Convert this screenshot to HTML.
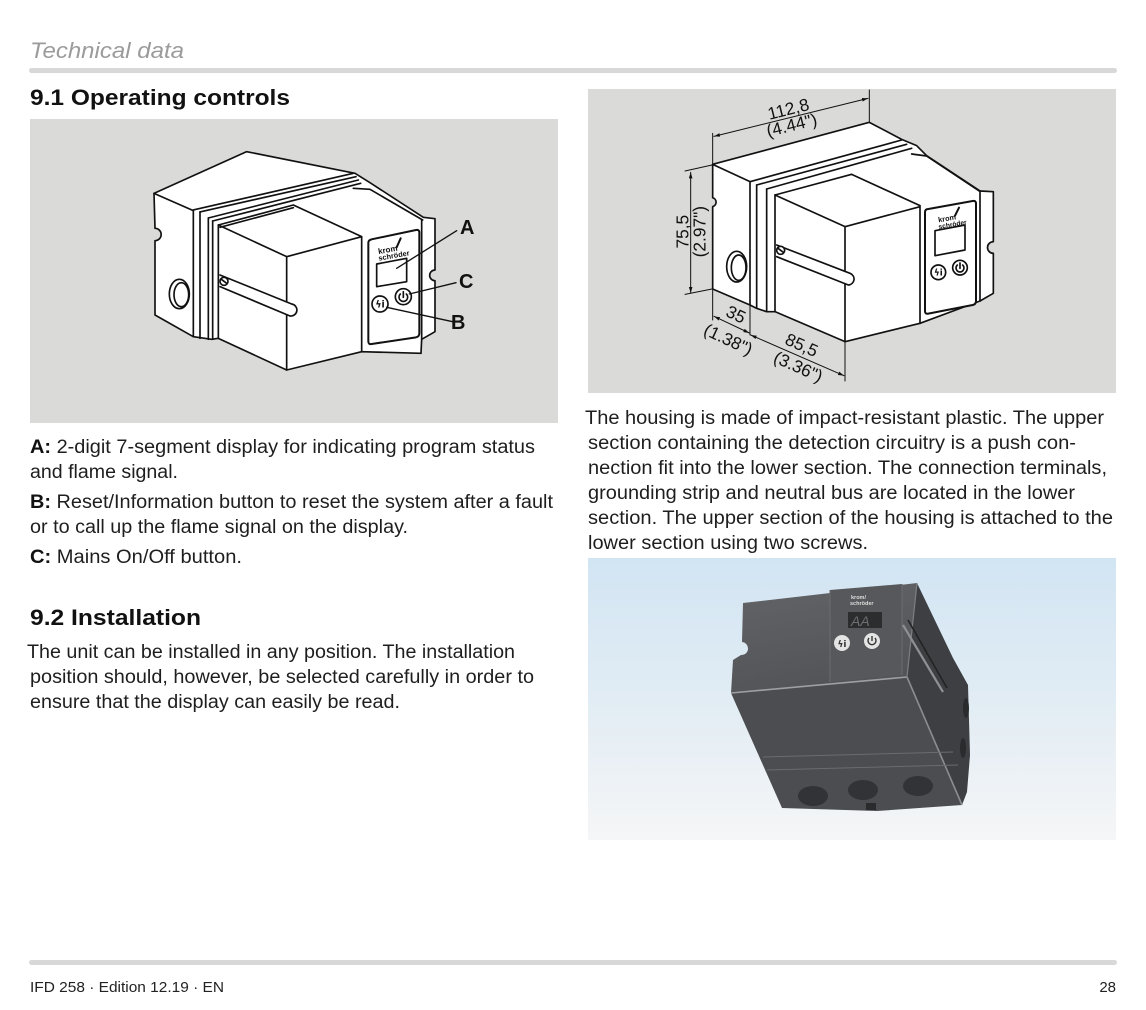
<!DOCTYPE html>
<html><head><meta charset="utf-8">
<style>
html,body{margin:0;padding:0;background:#fff;}
body{width:1146px;height:1010px;overflow:hidden;}
svg{display:block;}
.t{font-family:"Liberation Sans",Arial,sans-serif;font-size:19px;fill:#1e1e1e;}
.b{font-weight:bold;fill:#111;}
.h{font-family:"Liberation Sans",Arial,sans-serif;font-size:22px;font-weight:bold;fill:#111;}
.dim{font-family:"Liberation Sans",Arial,sans-serif;font-size:52px;fill:#111;stroke:none;}
.lbl{font-family:"Liberation Sans",Arial,sans-serif;font-size:20px;font-weight:bold;fill:#111;}
</style></head>
<body>
<svg width="1146" height="1010" viewBox="0 0 1146 1010" xmlns="http://www.w3.org/2000/svg">
<defs>
<marker id="ar" viewBox="0 0 10 6" refX="10" refY="3" markerWidth="6" markerHeight="3.6" orient="auto-start-reverse"><path d="M0,0 L10,3 L0,6 z" fill="#111"/></marker>
<linearGradient id="bg" x1="0" y1="0" x2="0" y2="1">
<stop offset="0" stop-color="#d2e5f3"/><stop offset="0.55" stop-color="#e3edf4"/><stop offset="1" stop-color="#f5f6f7"/>
</linearGradient>
<linearGradient id="topf" x1="0" y1="0" x2="0.3" y2="1">
<stop offset="0" stop-color="#626467"/><stop offset="1" stop-color="#525457"/>
</linearGradient>
</defs>

<!-- Header -->
<text x="30" y="58" font-family="Liberation Sans, Arial, sans-serif" font-size="22" font-style="italic" fill="#9b9b9b" textLength="154" lengthAdjust="spacingAndGlyphs">Technical data</text>
<rect x="29" y="68" width="1088" height="5" rx="2.5" fill="#d8d8d8"/>
<text class="h" x="30" y="105" textLength="260" lengthAdjust="spacingAndGlyphs">9.1 Operating controls</text>

<!-- Panels -->
<rect x="30" y="119" width="528" height="304" fill="#dadad8"/>
<rect x="588" y="89" width="528" height="304" fill="#dadad8"/>

<!-- Left drawing -->
<g transform="translate(140,140) scale(0.33333)" fill="none" stroke="#111" stroke-width="5" stroke-linejoin="round" stroke-linecap="round">
<path fill="#fff" d="M42,160 L320,35 L645,100 L690,128 L850,232 L885,236 L885,390 A16,16 0 0 0 885,422 L885,575 L845,598 L843,640 L665,635 L440,690 L235,595 L215,598 L160,590 L45,525 L45,302 A18,18 0 0 0 45,265 Z"/>
<path d="M42,160 L160,212 L160,590"/>
<path d="M160,210 L640,100 M180,216 L648,110 M205,234 L655,120 M218,243 L662,130"/>
<path d="M180,216 L180,595 M205,234 L205,598 M218,243 L218,598 M235,255 L235,595"/>
<path d="M235,255 L460,195 L665,290 M240,262 L460,203"/>
<path d="M235,255 L440,350 L440,690 M440,350 L665,290 L665,635"/>
<path d="M640,145 L690,148 L848,240 M845,240 L845,598"/>
<ellipse cx="118" cy="462" rx="30" ry="44" fill="#fff"/>
<ellipse cx="124" cy="464" rx="22" ry="36"/>
<path fill="#fff" d="M240,405 L455,492 A18,18 0 0 1 450,528 L240,440"/>
<circle cx="252" cy="424" r="12" fill="#fff"/>
<path d="M244,418 L260,430"/>
<path fill="#fff" stroke-width="6" d="M695,298 L828,270 Q838,268 838,278 L838,580 Q838,590 828,592 L695,612 Q685,614 685,604 L685,308 Q685,300 695,298 Z"/>
<path d="M710,372 L800,355 L800,425 L710,440 Z"/>
<text x="715" y="338" font-family="Liberation Sans, Arial, sans-serif" font-size="24" font-weight="bold" fill="#111" stroke="none" transform="rotate(-10 740 335)">krom</text>
<text x="715" y="358" font-family="Liberation Sans, Arial, sans-serif" font-size="22" font-weight="bold" fill="#111" stroke="none" transform="rotate(-10 740 350)">schröder</text>
<path d="M770,322 L782,295" stroke-width="6"/>
<circle cx="720" cy="492" r="24"/>
<text x="720" y="502" text-anchor="middle" font-family="DejaVu Sans, sans-serif" font-size="28" font-weight="bold" fill="#111" stroke="none">ϟi</text>
<circle cx="790" cy="470" r="24"/>
<path d="M781,462 A13,13 0 1 0 799,462 M790,455 L790,472" stroke-width="5"/>
<path stroke-width="4" d="M950,272 L770,385 M948,428 L808,462 M938,545 L740,502"/>
</g>
<text class="lbl" x="460" y="234">A</text>
<text class="lbl" x="459" y="288">C</text>
<text class="lbl" x="451" y="329">B</text>

<!-- Right drawing -->
<g transform="translate(660,85) scale(0.33333)" fill="none" stroke="#111" stroke-width="5" stroke-linejoin="round" stroke-linecap="round">
<path fill="#fff" d="M158,238 L628,112 L725,163 L770,182 L800,212 L960,318 L1000,320 L1000,470 A16,16 0 0 0 1000,505 L1000,625 L960,648 L780,715 L555,770 L345,680 L320,680 L290,670 L270,660 L158,612 L158,365 A14,14 0 0 0 158,338 Z"/>
<path d="M158,238 L270,290 L270,660"/>
<path d="M270,290 L725,165 M290,300 L740,178 M320,312 L755,190 M345,330 L575,268"/>
<path d="M290,300 L290,668 M320,312 L320,680 M345,330 L345,680"/>
<path d="M345,330 L555,425 L555,770 M555,425 L780,365 M575,268 L780,362 M780,362 L780,715"/>
<path d="M755,207 L800,213 L958,318 M960,318 L960,648"/>
<ellipse cx="230" cy="545" rx="30" ry="46" fill="#fff"/>
<ellipse cx="236" cy="548" rx="22" ry="38"/>
<path fill="#fff" d="M350,480 L570,565 A18,18 0 0 1 565,600 L350,515"/>
<circle cx="362" cy="496" r="12" fill="#fff"/>
<path d="M354,490 L370,502"/>
<path fill="#fff" stroke-width="6" d="M805,372 L938,348 Q948,346 948,356 L948,648 Q948,658 938,660 L805,686 Q795,688 795,678 L795,382 Q795,372 805,372 Z"/>
<path d="M825,437 L915,420 L915,495 L825,512 Z"/>
<text x="835" y="408" font-family="Liberation Sans, Arial, sans-serif" font-size="22" font-weight="bold" fill="#111" stroke="none" transform="rotate(-10 860 405)">krom</text>
<text x="835" y="428" font-family="Liberation Sans, Arial, sans-serif" font-size="20" font-weight="bold" fill="#111" stroke="none" transform="rotate(-10 860 420)">schröder</text>
<path d="M885,392 L897,368" stroke-width="6"/>
<circle cx="835" cy="562" r="22"/>
<text x="835" y="572" text-anchor="middle" font-family="DejaVu Sans, sans-serif" font-size="26" font-weight="bold" fill="#111" stroke="none">ϟi</text>
<circle cx="900" cy="548" r="22"/>
<path d="M892,540 A12,12 0 1 0 908,540 M900,534 L900,550"/>
<!-- dimensions -->
<g stroke-width="3">
<path d="M158,236 L158,145 M628,110 L628,15"/>
<path d="M162,154 L624,40" marker-start="url(#ar)" marker-end="url(#ar)"/>
<path d="M75,258 L156,240 M75,628 L156,612"/>
<path d="M92,262 L92,624" marker-start="url(#ar)" marker-end="url(#ar)"/>
<path d="M158,615 L158,705 M270,662 L270,750 M555,772 L555,888"/>
<path d="M162,694 L268,744" marker-start="url(#ar)" marker-end="url(#ar)"/>
<path d="M272,750 L552,872" marker-start="url(#ar)" marker-end="url(#ar)"/>
</g>
<text class="dim" x="385" y="72" text-anchor="middle" dominant-baseline="central" transform="rotate(-14 385 72)">112,8</text>
<text class="dim" x="395" y="120" text-anchor="middle" dominant-baseline="central" transform="rotate(-14 395 120)">(4.44")</text>
<text class="dim" x="68" y="440" text-anchor="middle" dominant-baseline="central" transform="rotate(-90 68 440)">75,5</text>
<text class="dim" x="118" y="440" text-anchor="middle" dominant-baseline="central" transform="rotate(-90 118 440)">(2.97")</text>
<text class="dim" x="228" y="688" text-anchor="middle" dominant-baseline="central" transform="rotate(25 228 688)">35</text>
<text class="dim" x="205" y="763" text-anchor="middle" dominant-baseline="central" transform="rotate(25 205 763)">(1.38")</text>
<text class="dim" x="425" y="780" text-anchor="middle" dominant-baseline="central" transform="rotate(24 425 780)">85,5</text>
<text class="dim" x="415" y="845" text-anchor="middle" dominant-baseline="central" transform="rotate(24 415 845)">(3.36")</text>
</g>

<!-- Left column text -->
<text class="t" x="30" y="453" textLength="505" lengthAdjust="spacingAndGlyphs"><tspan class="b">A:</tspan> 2-digit 7-segment display for indicating program status</text>
<text class="t" x="30" y="478" textLength="148" lengthAdjust="spacingAndGlyphs">and flame signal.</text>
<text class="t" x="30" y="508" textLength="523" lengthAdjust="spacingAndGlyphs"><tspan class="b">B:</tspan> Reset/Information button to reset the system after a fault</text>
<text class="t" x="30" y="533" textLength="378" lengthAdjust="spacingAndGlyphs">or to call up the flame signal on the display.</text>
<text class="t" x="30" y="563" textLength="212" lengthAdjust="spacingAndGlyphs"><tspan class="b">C:</tspan> Mains On/Off button.</text>
<text class="h" x="30" y="625" textLength="171" lengthAdjust="spacingAndGlyphs">9.2 Installation</text>
<text class="t" x="27" y="658" textLength="488" lengthAdjust="spacingAndGlyphs">The unit can be installed in any position. The installation</text>
<text class="t" x="30" y="683" textLength="504" lengthAdjust="spacingAndGlyphs">position should, however, be selected carefully in order to</text>
<text class="t" x="30" y="708" textLength="370" lengthAdjust="spacingAndGlyphs">ensure that the display can easily be read.</text>

<!-- Right column text -->
<text class="t" x="585" y="424" textLength="519" lengthAdjust="spacingAndGlyphs">The housing is made of impact-resistant plastic. The upper</text>
<text class="t" x="588" y="449" textLength="488" lengthAdjust="spacingAndGlyphs">section containing the detection circuitry is a push con-</text>
<text class="t" x="588" y="474" textLength="519" lengthAdjust="spacingAndGlyphs">nection fit into the lower section. The connection terminals,</text>
<text class="t" x="588" y="499" textLength="487" lengthAdjust="spacingAndGlyphs">grounding strip and neutral bus are located in the lower</text>
<text class="t" x="588" y="524" textLength="525" lengthAdjust="spacingAndGlyphs">section. The upper section of the housing is attached to the</text>
<text class="t" x="588" y="549" textLength="280" lengthAdjust="spacingAndGlyphs">lower section using two screws.</text>

<!-- Photo -->
<rect x="588" y="558" width="528" height="282" fill="url(#bg)"/>
<g>
<path fill="url(#topf)" d="M743,603 L917,583 L907,677 L731,693 L733,660 L741,655 A6,6 0 0 0 742,642 Z"/>
<path fill="#3d3f42" d="M917,583 L953,658 L968,685 L970,755 L967,792 L962,805 L907,677 Z"/>
<path fill="#4b4d50" d="M731,693 L907,677 L962,805 L877,811 L782,808 Z"/>
<path fill="#56585b" d="M830,590 L902,584 L902,675 L830,682 Z"/>
<path d="M830,590 L830,682 M902,584 L902,675" stroke="#6a6c6f" stroke-width="1"/>
<rect x="848" y="612" width="34" height="16" fill="#2c2d2f"/>
<text x="851" y="626" font-family="Liberation Sans, Arial, sans-serif" font-size="14" font-style="italic" fill="#6d6f72">AA</text>
<text x="851" y="599" font-family="Liberation Sans, Arial, sans-serif" font-size="5.5" font-weight="bold" fill="#ddd">krom/</text>
<text x="850" y="605" font-family="Liberation Sans, Arial, sans-serif" font-size="5.5" font-weight="bold" fill="#ddd">schröder</text>
<circle cx="842" cy="643" r="8" fill="#e4e4e4"/>
<text x="842" y="647" text-anchor="middle" font-family="DejaVu Sans, sans-serif" font-size="9" font-weight="bold" fill="#333">ϟi</text>
<circle cx="872" cy="641" r="8" fill="#e4e4e4"/>
<path d="M869,638 A4,4 0 1 0 875,638 M872,636 L872,641" stroke="#333" stroke-width="1.4" fill="none"/>
<path d="M731,693 L907,677" stroke="#9d9fa2" stroke-width="1.6"/>
<path d="M917,583 L907,677" stroke="#7d7f82" stroke-width="1.2"/>
<path d="M907,677 L962,805" stroke="#8b8d90" stroke-width="1.6"/>
<path d="M903,625 L943,692" stroke="#8e9093" stroke-width="2.2"/>
<path d="M908,620 L947,688" stroke="#222" stroke-width="1.5"/>
<path d="M763,757 L953,752 M767,770 L958,765" stroke="#6a6c6f" stroke-width="1"/>
<ellipse cx="966" cy="708" rx="3" ry="10" fill="#2a2b2d"/>
<ellipse cx="963" cy="748" rx="3" ry="10" fill="#2a2b2d"/>
<ellipse cx="813" cy="796" rx="15" ry="10" fill="#323336"/>
<ellipse cx="863" cy="790" rx="15" ry="10" fill="#323336"/>
<ellipse cx="918" cy="786" rx="15" ry="10" fill="#323336"/>
<rect x="866" y="803" width="10" height="7" fill="#2a2b2d"/>
</g>

<!-- Footer -->
<rect x="29" y="960" width="1088" height="5" rx="2.5" fill="#d8d8d8"/>
<text x="30" y="992" font-family="Liberation Sans, Arial, sans-serif" font-size="15" fill="#222" textLength="194" lengthAdjust="spacingAndGlyphs">IFD 258 · Edition 12.19 · EN</text>
<text x="1116" y="992" text-anchor="end" font-family="Liberation Sans, Arial, sans-serif" font-size="15" fill="#222">28</text>
</svg>
</body></html>
